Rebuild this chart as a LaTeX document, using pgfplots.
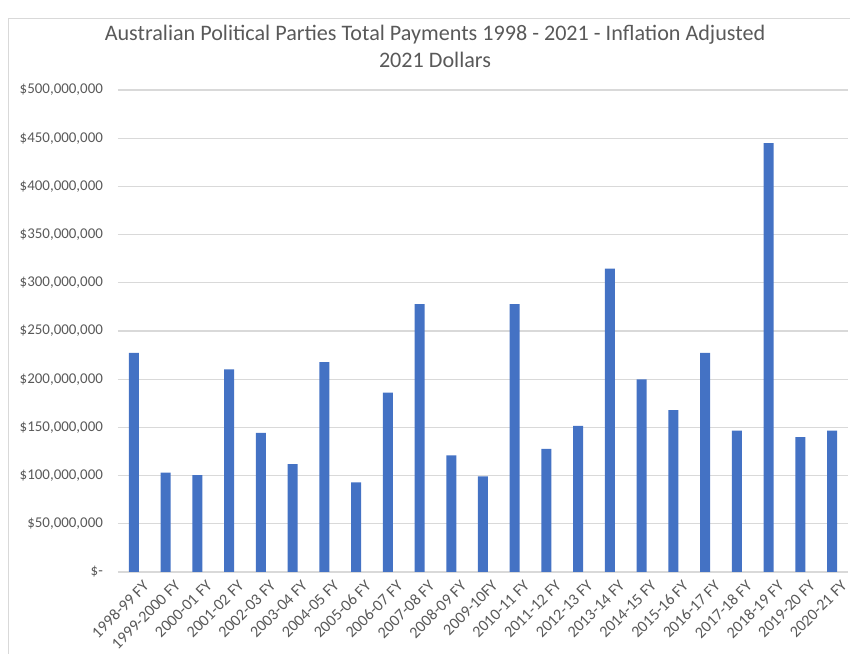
\documentclass[border=0pt]{standalone}
\usepackage{pgfplots}
\pgfplotsset{compat=1.18}
\usepackage{fontspec}
\setmainfont{Carlito}
\definecolor{barblue}{RGB}{68,114,196}
\definecolor{txtgray}{RGB}{89,89,89}
\definecolor{gridgray}{RGB}{217,217,217}
\begin{document}
\begin{tikzpicture}[x=1mm,y=1mm]
\useasboundingbox (-23.6,-16.4) rectangle (146.4,114.4);
\draw[gridgray, line width=0.3pt] (146.4,110.8) -- (-22,110.8) -- (-22,-16.4);
\begin{axis}[
    at={(0,0)}, anchor=south west,
    scale only axis,
    width=146mm, height=96.4mm,
    ybar, bar width=2mm,
    ymin=0, ymax=500,
    xmin=-0.5, xmax=22.5,
    axis x line*=bottom,
    axis y line*=left,
    y axis line style={draw=none},
    x axis line style={gridgray, line width=0.8pt},
    major tick length=0pt,
    ymajorgrids,
    grid style={gridgray, line width=0.6pt},
    ytick={0,50,...,500},
    yticklabels={{\$-},{\$50,000,000},{\$100,000,000},{\$150,000,000},{\$200,000,000},{\$250,000,000},{\$300,000,000},{\$350,000,000},{\$400,000,000},{\$450,000,000},{\$500,000,000}},
    yticklabel style={font=\fontsize{8.5}{10}\selectfont, text=txtgray, inner sep=1pt, xshift=-2.6mm},
    xtick={0,...,22},
    xticklabels={1998-99 FY,1999-2000 FY,2000-01 FY,2001-02 FY,2002-03 FY,2003-04 FY,2004-05 FY,2005-06 FY,2006-07 FY,2007-08 FY,2008-09 FY,2009-10FY,2010-11 FY,2011-12 FY,2012-13 FY,2013-14 FY,2014-15 FY,2015-16 FY,2016-17 FY,2017-18 FY,2018-19 FY,2019-20 FY,2020-21 FY},
    xticklabel style={font=\fontsize{9.2}{11}\selectfont, text=txtgray, rotate=45, anchor=north east, inner sep=1pt, xshift=0.5mm, yshift=-1.8mm},
]
\addplot[fill=barblue, draw=none] coordinates {
(0,227.2) (1,103.1) (2,100.6) (3,210.3) (4,144.2) (5,112.0) (6,217.8) (7,93.0)
(8,186.1) (9,278.0) (10,121.1) (11,99.3) (12,278.0) (13,127.6) (14,151.5)
(15,314.7) (16,199.9) (17,168.0) (18,227.2) (19,146.7) (20,445.0) (21,140.0) (22,146.7)};
\end{axis}
\node[align=center, text=txtgray, font=\fontsize{12.6}{15.4}\selectfont] at (63.4,105.1)
  {Australian Political Parties Total Payments 1998 - 2021 - Inflation Adjusted\\2021 Dollars};
\end{tikzpicture}
\end{document}
